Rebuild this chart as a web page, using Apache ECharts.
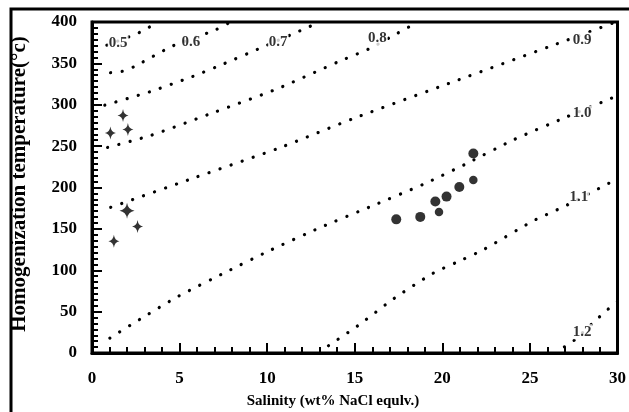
<!DOCTYPE html>
<html>
<head>
<meta charset="utf-8">
<script src="https://cdn.jsdelivr.net/npm/echarts@6/dist/echarts.min.js"></script>
<style>
  html, body { margin: 0; padding: 0; background: #fff; }
  #chart { width: 629px; height: 412px; }
</style>
</head>
<body>
<div id="chart"></div>
<script>
// ---- data ----
const crossSalinity = [1.77, 1.05, 2.05, 2.0, 2.6, 1.25];
const crossTemp = [287, 266, 270, 172, 153, 135];

const circleSalinity = [17.37, 18.74, 19.6, 19.81, 20.24, 20.97, 21.77, 21.77];
const circleTemp = [161.5, 164.5, 183, 170.5, 189, 200.7, 241, 209];

const iso05 = [[0.85, 372], [2.58, 386], [3.24, 393.5], [3.8, 400]];
const iso06 = [[1.06, 338.7], [1.73, 340.5], [2.4, 346], [4.6, 371], [7.0, 390], [7.9, 400]];
const iso07 = [[0.73, 299.5], [3.29, 315.6], [5.69, 333.7], [7.47, 349], [9.78, 370], [12.05, 391], [13.0, 400]];
const iso08 = [[0.89, 248.4], [3.37, 263], [7.0, 291], [10.55, 319], [14.07, 352], [15.86, 368], [17.4, 386], [18.6, 400]];
const iso09 = [[1.07, 176], [5.88, 212], [10.72, 248], [14.88, 283], [20.85, 329.5], [26.85, 376], [29.9, 400]];
const iso10 = [[1.02, 18], [2.73, 40.7], [4.93, 68.6], [7.76, 99], [10.1, 123.4], [13.03, 151.6], [16.0, 177.8], [18.93, 204], [21.28, 227.8], [24.1, 258], [27.06, 285], [29.4, 305.6], [30, 311]];
const iso11 = [[13.5, 8.8], [15.16, 32.7], [17.23, 65.7], [19.44, 96], [21.2, 113.3], [22.36, 125], [25.18, 159.6], [26.9, 176.5], [29.5, 205], [30, 210]];
const iso12 = [[26.97, 7.3], [27.53, 15.4], [28.8, 40.4], [29.32, 50.4], [29.85, 59.7], [30, 62]];
const isoLines = [iso05, iso06, iso07, iso08, iso09, iso10, iso11, iso12];

const isoLabels = ['0.5', '0.6', '0.7', '0.8', '0.9', '1.0', '1.1', '1.2'];
const isoLabelX = [1.49, 5.64, 10.63, 16.29, 27.98, 27.98, 27.79, 27.98];
const isoLabelY = [375, 376, 376, 380, 378, 289.7, 188.9, 25.7];

const xTitle = 'Salinity (wt% NaCl equlv.)';
const yTitle = 'Homogenization temperature(°c)';

// ---- chart ----
const FONT = '"Liberation Serif", "Times New Roman", serif';
const chart = echarts.init(document.getElementById('chart'), null, { renderer: 'canvas' });

const starPath = 'path://M0,-10 Q1.3,-1.3 10,0 Q1.3,1.3 0,10 Q-1.3,1.3 -10,0 Q-1.3,-1.3 0,-10 Z';
const labelStyle = { color: '#000', fontFamily: FONT, fontWeight: 'bold', fontSize: 17 };

const series = isoLines.map((pts, i) => ({
  type: 'line',
  name: 'iso' + isoLabels[i],
  data: pts,
  showSymbol: false,
  symbol: 'none',
  smooth: 0.2,
  silent: true,
  clip: true,
  z: 2,
  lineStyle: { color: '#000', width: 3.2, type: [0.1, 11.5], cap: 'round' }
}));

series.push({
  type: 'scatter',
  name: 'isoLabels',
  symbolSize: 0,
  silent: true,
  z: 5,
  data: isoLabels.map((t, i) => ({ name: t, value: [isoLabelX[i], isoLabelY[i]] })),
  label: {
    show: true,
    position: 'inside',
    formatter: '{b}',
    color: '#000',
    fontFamily: FONT,
    fontWeight: 'bold',
    fontSize: 15,
    backgroundColor: '#fff',
    padding: [0, 1]
  }
});

series.push({
  type: 'scatter',
  name: 'crosses',
  symbol: starPath,
  symbolSize: function (val, params) { return params.dataIndex === 3 ? [15, 16] : [11, 13]; },
  itemStyle: { color: '#000' },
  z: 6,
  data: crossSalinity.map((x, i) => [x, crossTemp[i]])
});

series.push({
  type: 'scatter',
  name: 'circles',
  symbol: 'circle',
  symbolSize: function (val, params) { return (params.dataIndex === 3 || params.dataIndex === 7) ? 8.5 : 10; },
  itemStyle: { color: '#000' },
  z: 6,
  data: circleSalinity.map((x, i) => [x, circleTemp[i]])
});

chart.setOption({
  animation: false,
  backgroundColor: '#fff',
  grid: { left: 92, right: 7, top: 22, bottom: 59, containLabel: false, show: true, borderColor: '#000', borderWidth: 3, backgroundColor: 'rgba(0,0,0,0)' },
  xAxis: {
    type: 'value', position: 'bottom',
    min: 0, max: 30, interval: 5,
    splitLine: { show: false },
    axisLine: { show: true, onZero: false, lineStyle: { color: '#000', width: 3 } },
    axisTick: { show: true, inside: true, length: 10, lineStyle: { color: '#000', width: 2 } },
    minorTick: { show: true, splitNumber: 5, length: 6, lineStyle: { color: '#000', width: 2 } },
    axisLabel: Object.assign({ show: true, margin: 17 }, labelStyle)
  },
  yAxis: {
    type: 'value', position: 'left',
    min: 0, max: 400, interval: 50,
    splitLine: { show: false },
    axisLine: { show: true, onZero: false, lineStyle: { color: '#000', width: 3 } },
    axisTick: { show: true, inside: true, length: 10, lineStyle: { color: '#000', width: 2 } },
    minorTick: { show: true, splitNumber: 7, length: 6, lineStyle: { color: '#000', width: 2 } },
    axisLabel: Object.assign({ show: true, margin: 15 }, labelStyle)
  },
  graphic: [
    {
      type: 'rect', silent: true, z: 100,
      shape: { x: 11, y: 9, width: 700, height: 500 },
      style: { fill: 'none', stroke: '#000', lineWidth: 3 }
    },
    {
      type: 'text', silent: true, z: 100,
      x: 20, y: 184, rotation: Math.PI / 2,
      style: { text: yTitle, fill: '#000', fontFamily: FONT, fontWeight: 'bold', fontSize: 21, textAlign: 'center', textVerticalAlign: 'middle' }
    },
    {
      type: 'text', silent: true, z: 100,
      x: 333, y: 401,
      style: { text: xTitle, fill: '#000', fontFamily: FONT, fontWeight: 'bold', fontSize: 15, textAlign: 'center', textVerticalAlign: 'middle' }
    }
  ],
  series: series
});
</script>
</body>
</html>
